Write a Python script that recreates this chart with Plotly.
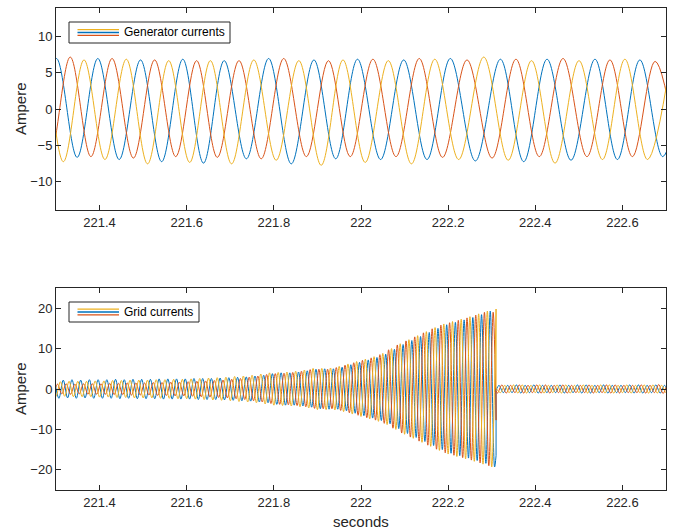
import plotly.graph_objects as go

W, H = 678, 532
BLUE, RED, YEL = '#0072BD', '#D95319', '#EDB120'
INK = '#262626'
FONT = 'Liberation Sans, Arial, sans-serif'

# ---------------- data: generator currents (top) ----------------
# times of the blue-phase peaks (start of each electrical cycle), seconds
gen_cycle_start = [221.205, 221.301, 221.396, 221.494, 221.591, 221.686, 221.788, 221.892,
                   221.992, 222.098, 222.205, 222.320, 222.427, 222.537, 222.640, 222.745]
gen_blue_peak = [6.9, 7.0, 7.0, 6.8, 6.9, 6.7, 7.0, 6.8, 6.9, 6.8, 7.0, 6.9, 6.9, 6.9, 6.8, 6.8]
gen_blue_trough = [-6.8, -6.7, -7.0, -7.3, -7.5, -6.9, -7.6, -6.9, -7.0, -7.0, -7.2, -7.3, -7.1, -7.0, -6.6]
gen_red_peak = [7.0, 7.2, 7.0, 6.8, 6.7, 6.7, 7.0, 6.7, 6.9, 7.0, 6.8, 6.9, 7.0, 6.8, 6.6]
gen_red_trough = [-6.8, -6.6, -6.8, -6.6, -6.7, -6.9, -6.6, -6.6, -6.6, -6.7, -6.8, -6.6, -6.6, -6.6, -6.6]
gen_yel_peak = [6.8, 6.8, 6.9, 6.7, 6.7, 6.8, 6.7, 6.8, 6.7, 6.9, 7.2, 6.7, 6.7, 6.9, 6.6]
gen_yel_trough = [-7.0, -7.3, -7.0, -7.6, -7.4, -7.6, -7.1, -7.8, -7.4, -7.6, -7.0, -7.1, -7.5, -7.0, -7.0]

# ---------------- data: grid currents (bottom) ----------------
grid_first_peak = 221.29      # first yellow-phase peak, s
grid_period = 0.02            # s
grid_cut = 222.31             # s, where the current collapses
grid_blue_amp = [2.3, 2.2, 2.3, 2.2, 2.3, 2.3, 2.3, 2.4, 2.3, 2.4, 2.4, 2.4, 2.5, 2.5, 2.5, 2.5,
                 2.6, 2.6, 2.6, 2.7, 2.8, 2.9, 3.0, 3.2, 3.4, 3.8, 4.0, 4.0, 4.2, 4.5, 4.9, 5.0,
                 5.0, 5.4, 6.0, 6.6, 7.2, 7.8, 8.6, 9.8, 11.0, 12.0, 13.0, 14.0, 15.0, 15.9,
                 16.5, 17.1, 17.7, 18.4, 19.3, 19.3]
grid_red_amp = [1.2, 1.2, 1.3, 1.2, 1.3, 1.3, 1.3, 1.4, 1.4, 1.5, 1.5, 1.5, 1.6, 1.6, 1.7, 1.7,
                1.8, 1.9, 2.0, 2.1, 2.2, 2.4, 2.6, 2.9, 3.2, 3.6, 3.8, 3.9, 4.1, 4.4, 4.8, 4.9,
                4.9, 5.3, 5.9, 6.5, 7.1, 7.7, 8.5, 9.7, 10.9, 11.9, 12.9, 13.9, 14.9, 15.8,
                16.4, 17.0, 17.6, 18.3, 19.0, 19.0]
grid_yel_amp = [1.8, 1.8, 1.9, 1.9, 1.9, 2.0, 2.0, 2.1, 2.1, 2.2, 2.2, 2.2, 2.3, 2.3, 2.4, 2.4,
                2.5, 2.6, 2.7, 2.8, 2.9, 3.1, 3.2, 3.4, 3.7, 4.0, 4.1, 4.2, 4.4, 4.7, 5.1, 5.1,
                5.2, 5.6, 6.2, 6.8, 7.4, 8.0, 8.8, 10.0, 11.2, 12.2, 13.2, 14.2, 15.2, 16.1,
                16.7, 17.3, 17.9, 18.6, 19.3, 19.8]
grid_blue_post = [0.9, 1.0, 0.9, 1.0, 0.9, 0.9, 1.0, 0.9, 1.0, 1.0, 0.9, 1.0, 0.9, 0.9, 1.0, 1.0, 0.9, 1.0, 0.9, 1.0]
grid_red_post = [1.0, 0.9, 1.0, 0.9, 1.0, 1.0, 0.9, 1.0, 0.9, 0.9, 1.0, 0.9, 1.0, 1.0, 0.9, 0.9, 1.0, 0.9, 1.1, 0.9]
grid_yel_post = [0.9, 1.0, 1.0, 0.9, 1.0, 0.9, 1.0, 1.0, 0.9, 1.0, 0.9, 1.0, 1.0, 0.9, 1.0, 0.9, 1.0, 1.0, 0.9, 1.0]
grid_cut_value = {'blue': -16.5, 'red': -7.7, 'yel': 19.8}
grid_post_start = {'blue': -0.3, 'red': -0.4, 'yel': 0.2}

x_tick_vals = [221.4, 221.6, 221.8, 222.0, 222.2, 222.4, 222.6]
x_tick_text = ['221.4', '221.6', '221.8', '222', '222.2', '222.4', '222.6']
top_y_ticks = [-10, -5, 0, 5, 10]
bot_y_ticks = [-20, -10, 0, 10, 20]

fig = go.Figure()


def add_line(x, y, color, xa, ya, shape='spline'):
    fig.add_trace(go.Scatter(x=x, y=y, mode='lines',
                             line=dict(color=color, width=1, shape=shape, smoothing=1.0),
                             xaxis=xa, yaxis=ya, showlegend=False, hoverinfo='skip'))


def gen_phase(frac_pk, frac_tr, pk, tr, final_peak=None):
    pts = []
    for i in range(len(gen_cycle_start) - 1):
        t0 = gen_cycle_start[i]
        p = gen_cycle_start[i + 1] - t0
        pts.append((t0 + frac_pk * p, pk[i]))
        pts.append((t0 + frac_tr * p, tr[i]))
    if final_peak is not None:
        pts.append((gen_cycle_start[-1], final_peak))
    pts.sort()
    return [a for a, _ in pts], [b for _, b in pts]


for (fp, ft, pk, tr, col, fin) in [
        (0.0, 0.5, gen_blue_peak, gen_blue_trough, BLUE, gen_blue_peak[-1]),
        (1 / 3, 5 / 6, gen_red_peak, gen_red_trough, RED, None),
        (2 / 3, 1 / 6, gen_yel_peak, gen_yel_trough, YEL, None)]:
    xs, ys = gen_phase(fp, ft, pk, tr, fin)
    add_line(xs, ys, col, 'x', 'y')


def grid_phase(offset, amps, post_amps, key):
    pre, post = [], []
    n = len(amps)
    allamps = list(amps) + list(post_amps)
    for k, a in enumerate(allamps):
        tp = grid_first_peak + (k + offset) * grid_period
        for t, s in ((tp, 1), (tp + grid_period / 2, -1)):
            if t <= grid_cut + 1e-9:
                if k < n:
                    pre.append((t, s * a))
            else:
                pa = post_amps[max(0, k - n)]
                post.append((t, s * pa))
    pre.sort()
    post.sort()
    if pre[-1][0] < grid_cut - 1e-9:
        pre.append((grid_cut, grid_cut_value[key]))
    post.insert(0, (grid_cut, grid_post_start[key]))
    return pre, post


segs = {}
for off, amps, pamps, key, col in [
        (1 / 3, grid_blue_amp, grid_blue_post, 'blue', BLUE),
        (-1 / 3, grid_red_amp, grid_red_post, 'red', RED),
        (0.0, grid_yel_amp, grid_yel_post, 'yel', YEL)]:
    pre, post = grid_phase(off, amps, pamps, key)
    segs[key] = (pre, post, col)
    add_line([a for a, _ in pre], [b for _, b in pre], col, 'x2', 'y2')

for key in ['blue', 'red', 'yel']:
    pre, post, col = segs[key]
    add_line([pre[-1][0], post[0][0]], [pre[-1][1], post[0][1]], col, 'x2', 'y2', shape='linear')
for key in ['blue', 'red', 'yel']:
    pre, post, col = segs[key]
    add_line([a for a, _ in post], [b for _, b in post], col, 'x2', 'y2')

# ---------------- layout ----------------
x_dom = [56 / W, 666 / W]
top_dom = [1 - 210 / H, 1 - 8 / H]
bot_dom = [1 - 490 / H, 1 - 288 / H]

axis_common = dict(ticks='inside', ticklen=5, tickcolor=INK, showline=True, linecolor=INK,
                   linewidth=1, mirror='ticks', showgrid=False, zeroline=False, automargin=False,
                   tickfont=dict(family=FONT, size=13, color=INK))

fig.update_layout(
    width=W, height=H, margin=dict(l=0, r=0, t=0, b=0, autoexpand=False),
    paper_bgcolor='white', plot_bgcolor='white', showlegend=False,
    xaxis=dict(domain=x_dom, range=[221.3, 222.7], tickvals=x_tick_vals, ticktext=x_tick_text,
               anchor='y', **axis_common),
    yaxis=dict(domain=top_dom, range=[-14, 14], tickvals=top_y_ticks, anchor='x', **axis_common),
    xaxis2=dict(domain=x_dom, range=[221.3, 222.7], tickvals=x_tick_vals, ticktext=x_tick_text,
                anchor='y2', **axis_common),
    yaxis2=dict(domain=bot_dom, range=[-25, 25], tickvals=bot_y_ticks, anchor='x2', **axis_common),
)


def px(x):
    return x / W


def py(y):
    return 1 - y / H


shapes = []
annotations = []
for (bx0, bx1, by0, by1, label) in [(69, 230, 22, 43, 'Generator currents'),
                                     (69, 199, 302, 322, 'Grid currents')]:
    shapes.append(dict(type='rect', xref='paper', yref='paper', x0=px(bx0), x1=px(bx1),
                       y0=py(by1), y1=py(by0), line=dict(color=INK, width=1), fillcolor='white',
                       layer='above'))
    cy = (by0 + by1) / 2
    for dy, col in [(-2.8, YEL), (0, BLUE), (2.8, RED)]:
        shapes.append(dict(type='line', xref='paper', yref='paper', x0=px(77.5), x1=px(119),
                           y0=py(cy + dy), y1=py(cy + dy), line=dict(color=col, width=1.3),
                           layer='above'))
    annotations.append(dict(text=label, xref='paper', yref='paper', x=px(122), y=py(cy),
                            xanchor='left', yanchor='middle', showarrow=False,
                            font=dict(family=FONT, size=12, color='black')))

for cy in [109, 389]:
    annotations.append(dict(text='Ampere', xref='paper', yref='paper', x=px(20), y=py(cy),
                            xanchor='center', yanchor='middle', textangle=-90, showarrow=False,
                            font=dict(family=FONT, size=15, color=INK)))
annotations.append(dict(text='seconds', xref='paper', yref='paper', x=px(361), y=py(521),
                        xanchor='center', yanchor='middle', showarrow=False,
                        font=dict(family=FONT, size=15, color=INK)))

fig.update_layout(shapes=shapes, annotations=annotations)
fig.write_html('out.html', config={'displayModeBar': False},
               post_script="document.body.style.margin='0';document.body.style.overflow='hidden';")
